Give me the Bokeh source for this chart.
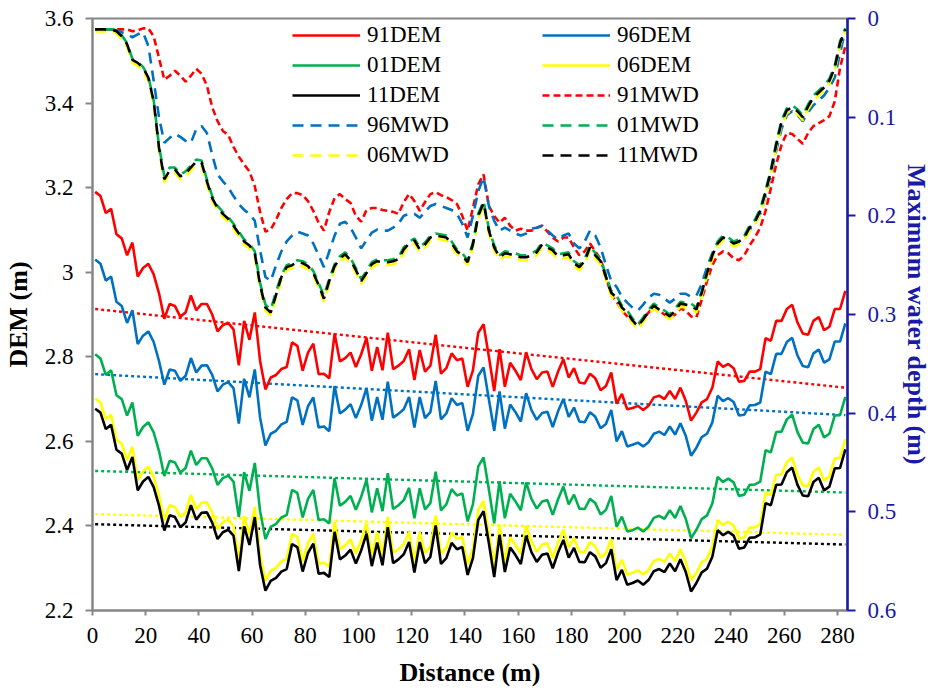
from bokeh.plotting import figure
from bokeh.models import (Range1d, LinearAxis, FixedTicker, CustomJSTickFormatter,
                          Legend, LegendItem)
from bokeh.embed import file_html
from bokeh.resources import INLINE

# ---------------- data ----------------
distance = list(range(1, 284, 2))  # m, 142 survey points

dem91 = [3.190, 3.180, 3.140, 3.150, 3.090, 3.080, 3.040, 3.070, 2.990, 3.010,
         3.020, 2.995, 2.950, 2.890, 2.925, 2.920, 2.895, 2.905, 2.945, 2.910,
         2.925, 2.925, 2.900, 2.860, 2.875, 2.880, 2.865, 2.780, 2.885, 2.840,
         2.905, 2.790, 2.723, 2.751, 2.757, 2.771, 2.776, 2.834, 2.826, 2.767,
         2.810, 2.831, 2.759, 2.760, 2.749, 2.855, 2.789, 2.797, 2.810, 2.776,
         2.806, 2.845, 2.767, 2.823, 2.768, 2.857, 2.771, 2.779, 2.790, 2.818,
         2.745, 2.816, 2.765, 2.779, 2.852, 2.760, 2.773, 2.808, 2.792, 2.796,
         2.729, 2.768, 2.857, 2.877, 2.800, 2.719, 2.818, 2.729, 2.786, 2.767,
         2.745, 2.811, 2.771, 2.747, 2.763, 2.765, 2.729, 2.765, 2.794, 2.751,
         2.773, 2.739, 2.737, 2.760, 2.749, 2.721, 2.731, 2.763, 2.689, 2.712,
         2.676, 2.679, 2.684, 2.674, 2.684, 2.704, 2.708, 2.700, 2.719, 2.700,
         2.727, 2.696, 2.649, 2.668, 2.692, 2.700, 2.727, 2.789, 2.776, 2.783,
         2.773, 2.741, 2.743, 2.765, 2.765, 2.771, 2.844, 2.838, 2.885, 2.885,
         2.913, 2.923, 2.881, 2.855, 2.852, 2.885, 2.894, 2.863, 2.871, 2.913,
         2.913, 2.956]

dem96 = [3.030, 3.020, 2.980, 2.990, 2.930, 2.920, 2.880, 2.910, 2.830, 2.850,
         2.860, 2.835, 2.790, 2.734, 2.770, 2.767, 2.743, 2.755, 2.797, 2.763,
         2.779, 2.780, 2.757, 2.718, 2.734, 2.740, 2.726, 2.642, 2.748, 2.704,
         2.770, 2.656, 2.590, 2.618, 2.625, 2.640, 2.646, 2.704, 2.697, 2.639,
         2.683, 2.704, 2.633, 2.635, 2.624, 2.731, 2.666, 2.675, 2.688, 2.655,
         2.686, 2.726, 2.649, 2.705, 2.651, 2.741, 2.656, 2.665, 2.676, 2.705,
         2.633, 2.705, 2.655, 2.669, 2.743, 2.652, 2.666, 2.702, 2.686, 2.691,
         2.625, 2.665, 2.755, 2.775, 2.699, 2.625, 2.718, 2.630, 2.687, 2.669,
         2.647, 2.714, 2.674, 2.651, 2.667, 2.670, 2.634, 2.671, 2.700, 2.658,
         2.680, 2.647, 2.645, 2.669, 2.658, 2.631, 2.641, 2.674, 2.600, 2.624,
         2.588, 2.592, 2.597, 2.588, 2.598, 2.618, 2.623, 2.615, 2.635, 2.616,
         2.643, 2.613, 2.566, 2.585, 2.610, 2.618, 2.645, 2.708, 2.695, 2.702,
         2.693, 2.661, 2.663, 2.685, 2.686, 2.692, 2.765, 2.759, 2.807, 2.807,
         2.835, 2.845, 2.803, 2.778, 2.775, 2.808, 2.817, 2.786, 2.794, 2.836,
         2.836, 2.879]

dem01 = [2.806, 2.796, 2.757, 2.768, 2.709, 2.700, 2.661, 2.692, 2.613, 2.634,
         2.645, 2.621, 2.577, 2.518, 2.554, 2.550, 2.526, 2.537, 2.578, 2.544,
         2.560, 2.560, 2.536, 2.497, 2.513, 2.519, 2.505, 2.421, 2.527, 2.483,
         2.549, 2.435, 2.369, 2.398, 2.405, 2.420, 2.426, 2.485, 2.478, 2.420,
         2.464, 2.485, 2.414, 2.416, 2.406, 2.513, 2.448, 2.457, 2.471, 2.438,
         2.469, 2.509, 2.432, 2.489, 2.435, 2.525, 2.440, 2.449, 2.461, 2.490,
         2.418, 2.489, 2.439, 2.454, 2.528, 2.437, 2.451, 2.487, 2.472, 2.477,
         2.411, 2.451, 2.541, 2.562, 2.486, 2.406, 2.506, 2.418, 2.476, 2.458,
         2.437, 2.503, 2.464, 2.441, 2.458, 2.461, 2.426, 2.463, 2.493, 2.451,
         2.474, 2.441, 2.440, 2.464, 2.454, 2.427, 2.438, 2.471, 2.398, 2.422,
         2.387, 2.390, 2.396, 2.387, 2.398, 2.419, 2.424, 2.417, 2.437, 2.419,
         2.447, 2.417, 2.371, 2.391, 2.416, 2.425, 2.453, 2.516, 2.504, 2.512,
         2.503, 2.471, 2.474, 2.497, 2.498, 2.505, 2.579, 2.574, 2.622, 2.623,
         2.652, 2.663, 2.622, 2.597, 2.595, 2.629, 2.639, 2.609, 2.618, 2.661,
         2.662, 2.705]

dem06 = [2.701, 2.692, 2.653, 2.663, 2.604, 2.595, 2.556, 2.587, 2.508, 2.529,
         2.540, 2.516, 2.472, 2.413, 2.449, 2.445, 2.421, 2.432, 2.473, 2.439,
         2.455, 2.456, 2.432, 2.393, 2.409, 2.415, 2.401, 2.317, 2.423, 2.379,
         2.445, 2.331, 2.271, 2.294, 2.301, 2.316, 2.322, 2.381, 2.374, 2.316,
         2.360, 2.382, 2.311, 2.313, 2.303, 2.410, 2.345, 2.354, 2.368, 2.335,
         2.366, 2.406, 2.329, 2.385, 2.331, 2.421, 2.336, 2.345, 2.357, 2.386,
         2.314, 2.386, 2.336, 2.351, 2.425, 2.334, 2.348, 2.384, 2.369, 2.374,
         2.308, 2.348, 2.438, 2.459, 2.383, 2.303, 2.403, 2.315, 2.373, 2.355,
         2.334, 2.401, 2.362, 2.339, 2.356, 2.359, 2.324, 2.361, 2.391, 2.349,
         2.372, 2.339, 2.338, 2.362, 2.352, 2.325, 2.336, 2.369, 2.296, 2.320,
         2.285, 2.289, 2.295, 2.285, 2.296, 2.317, 2.322, 2.315, 2.335, 2.317,
         2.345, 2.315, 2.272, 2.289, 2.314, 2.323, 2.351, 2.414, 2.402, 2.410,
         2.401, 2.370, 2.373, 2.396, 2.397, 2.404, 2.478, 2.473, 2.521, 2.522,
         2.551, 2.562, 2.521, 2.496, 2.494, 2.528, 2.538, 2.508, 2.517, 2.560,
         2.561, 2.605]

dem11 = [2.677, 2.668, 2.629, 2.639, 2.580, 2.571, 2.532, 2.563, 2.484, 2.505,
         2.516, 2.492, 2.448, 2.389, 2.425, 2.421, 2.397, 2.408, 2.449, 2.415,
         2.431, 2.432, 2.408, 2.369, 2.385, 2.391, 2.377, 2.293, 2.399, 2.355,
         2.421, 2.307, 2.247, 2.270, 2.277, 2.292, 2.298, 2.357, 2.350, 2.292,
         2.336, 2.358, 2.287, 2.289, 2.279, 2.386, 2.321, 2.330, 2.344, 2.311,
         2.342, 2.382, 2.305, 2.361, 2.307, 2.397, 2.312, 2.321, 2.333, 2.362,
         2.290, 2.362, 2.312, 2.327, 2.401, 2.310, 2.324, 2.360, 2.345, 2.350,
         2.284, 2.324, 2.414, 2.435, 2.359, 2.279, 2.379, 2.291, 2.349, 2.331,
         2.310, 2.377, 2.338, 2.315, 2.332, 2.335, 2.300, 2.337, 2.367, 2.325,
         2.348, 2.315, 2.314, 2.338, 2.328, 2.301, 2.312, 2.345, 2.272, 2.296,
         2.261, 2.265, 2.271, 2.261, 2.272, 2.293, 2.298, 2.291, 2.311, 2.293,
         2.321, 2.291, 2.245, 2.265, 2.290, 2.299, 2.327, 2.390, 2.378, 2.386,
         2.377, 2.346, 2.349, 2.372, 2.373, 2.380, 2.454, 2.449, 2.497, 2.498,
         2.527, 2.538, 2.497, 2.472, 2.470, 2.504, 2.514, 2.484, 2.493, 2.536,
         2.537, 2.581]

mwd91 = [.011, .011, .011, .011, .011, .011, .011, .013, .012, .010,
         .010, .018, .040, .062, .058, .053, .058, .064, .058, .051,
         .056, .068, .090, .104, .114, .118, .130, .140, .148, .155,
         .170, .196, .216, .214, .204, .192, .183, .177, .177, .179,
         .185, .195, .207, .215, .196, .182, .178, .183, .187, .200,
         .206, .194, .192, .192, .194, .195, .196, .198, .186, .178,
         .185, .195, .186, .178, .176, .179, .181, .184, .188, .200,
         .215, .192, .168, .158, .190, .200, .207, .202, .210, .215,
         .213, .215, .215, .212, .210, .216, .222, .226, .222, .222,
         .232, .240, .236, .228, .236, .244, .262, .280, .287, .296,
         .302, .308, .311, .305, .298, .292, .296, .300, .304, .300,
         .294, .296, .302, .303, .285, .266, .250, .240, .236, .238,
         .243, .245, .240, .230, .222, .212, .195, .172, .148, .128,
         .116, .117, .122, .127, .116, .109, .106, .103, .099, .084,
         .050, .028]

mwd96 = [.011, .011, .011, .011, .012, .014, .016, .019, .016, .014,
         .028, .063, .100, .126, .121, .117, .120, .124, .126, .112,
         .109, .116, .138, .158, .165, .171, .180, .188, .194, .198,
         .205, .235, .262, .266, .250, .236, .226, .220, .216, .218,
         .220, .228, .240, .252, .236, .220, .208, .206, .212, .222,
         .233, .225, .217, .214, .215, .215, .212, .208, .200, .198,
         .198, .202, .196, .190, .188, .190, .192, .194, .198, .208,
         .222, .200, .175, .161, .190, .205, .215, .212, .215, .218,
         .220, .218, .213, .212, .210, .215, .220, .224, .220, .218,
         .228, .233, .226, .215, .220, .232, .250, .266, .272, .282,
         .288, .293, .296, .290, .283, .279, .280, .284, .288, .284,
         .279, .279, .282, .281, .269, .252, .238, .228, .222, .224,
         .228, .226, .222, .214, .208, .198, .180, .160, .134, .112,
         .098, .094, .098, .104, .095, .088, .083, .078, .070, .060,
         .035, .012]

mwd01 = [.011, .011, .011, .011, .012, .017, .025, .041, .044, .049,
         .059, .083, .129, .160, .151, .151, .158, .155, .149, .143,
         .144, .163, .180, .190, .196, .201, .208, .216, .224, .228,
         .236, .268, .290, .295, .277, .260, .250, .248, .245, .246,
         .249, .256, .268, .281, .264, .249, .241, .237, .243, .253,
         .264, .256, .247, .244, .245, .245, .244, .242, .232, .226,
         .223, .232, .227, .220, .218, .219, .220, .226, .234, .238,
         .245, .227, .198, .185, .213, .230, .240, .236, .237, .238,
         .240, .240, .238, .235, .227, .230, .233, .239, .238, .237,
         .246, .250, .244, .230, .238, .244, .260, .276, .281, .291,
         .296, .304, .310, .303, .295, .289, .293, .296, .300, .294,
         .287, .288, .289, .293, .276, .256, .238, .226, .220, .222,
         .226, .224, .220, .210, .204, .193, .174, .153, .126, .103,
         .091, .088, .092, .098, .087, .078, .073, .068, .061, .048,
         .023, .010]

mwd06 = [.013, .013, .013, .013, .015, .021, .029, .045, .048, .053,
         .063, .087, .134, .166, .157, .156, .163, .160, .154, .148,
         .149, .168, .185, .195, .201, .206, .213, .221, .229, .233,
         .241, .273, .296, .301, .283, .265, .255, .253, .250, .251,
         .254, .261, .273, .287, .269, .254, .246, .242, .248, .258,
         .269, .261, .252, .249, .250, .250, .249, .247, .237, .231,
         .228, .237, .232, .225, .223, .224, .225, .231, .239, .243,
         .250, .232, .203, .190, .218, .235, .245, .241, .242, .243,
         .245, .245, .243, .240, .232, .235, .238, .244, .243, .242,
         .251, .255, .249, .235, .243, .249, .265, .281, .286, .296,
         .301, .309, .315, .308, .300, .294, .298, .301, .305, .299,
         .292, .293, .294, .298, .281, .261, .243, .231, .225, .227,
         .231, .229, .225, .215, .209, .198, .179, .158, .131, .108,
         .096, .093, .097, .103, .092, .083, .078, .073, .066, .053,
         .027, .012]

mwd11 = [.011, .011, .011, .011, .013, .018, .026, .042, .045, .050,
         .060, .084, .131, .163, .154, .153, .160, .157, .151, .145,
         .146, .165, .182, .192, .198, .203, .210, .218, .226, .230,
         .238, .270, .293, .298, .280, .262, .252, .250, .247, .248,
         .251, .258, .270, .284, .266, .251, .243, .239, .245, .255,
         .266, .258, .249, .246, .247, .247, .246, .244, .234, .228,
         .225, .234, .229, .222, .220, .221, .222, .228, .236, .240,
         .247, .229, .200, .187, .215, .232, .242, .238, .239, .240,
         .242, .242, .240, .237, .229, .232, .235, .241, .240, .239,
         .248, .252, .246, .232, .240, .246, .262, .278, .283, .293,
         .298, .306, .312, .305, .297, .291, .295, .298, .302, .296,
         .289, .290, .291, .295, .278, .258, .240, .228, .222, .224,
         .228, .226, .222, .212, .206, .195, .176, .155, .128, .105,
         .093, .090, .094, .100, .089, .080, .075, .070, .063, .050,
         .025, .011]

# linear trend lines of the DEM profiles (end points)
trend_x = [1, 283]
trend91 = [2.913, 2.727]
trend96 = [2.759, 2.662]
trend01 = [2.530, 2.479]
trend06 = [2.428, 2.379]
trend11 = [2.404, 2.356]

x_ticks = [0, 20, 40, 60, 80, 100, 120, 140, 160, 180, 200, 220, 240, 260, 280]
dem_ticks = [2.2, 2.4, 2.6, 2.8, 3.0, 3.2, 3.4, 3.6]
mwd_ticks = [0, 0.1, 0.2, 0.3, 0.4, 0.5, 0.6]

# ---------------- styling ----------------
FONT = "Liberation Serif"
RED, BLUE, GREEN, YELLOW, BLACK = "#FF0000", "#0070C0", "#00B050", "#FFFF00", "#000000"
NAVY = "#1A1AA6"
GRAY = "#868686"
LW = 2.6
LONG_DASH = "11 7"
SHORT_DASH = "7 4"
DOT = "3 3"

p = figure(width=934, height=693, output_backend="svg", toolbar_location=None,
           x_range=Range1d(0, 283.8), y_range=Range1d(2.2, 3.6),
           min_border_left=92, min_border_right=87, min_border_top=18,
           min_border_bottom=83)
p.xgrid.visible = False
p.ygrid.visible = False
p.outline_line_color = GRAY
p.outline_line_width = 2
p.background_fill_color = "white"
p.border_fill_color = "white"

fmt = CustomJSTickFormatter(code="return tick.toFixed(1).replace(/\\.0$/, '');")

xa = p.xaxis[0]
xa.ticker = FixedTicker(ticks=x_ticks)
xa.axis_label = "Distance (m)"
ya = p.yaxis[0]
ya.ticker = FixedTicker(ticks=dem_ticks)
ya.formatter = fmt
ya.axis_label = "DEM (m)"
for ax in (xa, ya):
    ax.axis_line_color = GRAY
    ax.axis_line_width = 2
    ax.major_tick_line_color = GRAY
    ax.major_tick_line_width = 2
    ax.major_tick_in = 0
    ax.major_tick_out = 7
    ax.minor_tick_line_color = None
    ax.major_label_text_font = FONT
    ax.major_label_text_font_size = "23px"
    ax.major_label_text_color = "black"
    ax.axis_label_text_font = FONT
    ax.axis_label_text_font_style = "bold"
    ax.axis_label_text_font_size = "26px"
    ax.axis_label_text_color = "black"
xa.major_tick_out = 5
xa.major_label_standoff = 12
xa.axis_label_standoff = 12
ya.major_label_standoff = 12
ya.axis_label_standoff = 9

# right axis (maximum water depth, inverted)
p.extra_y_ranges = {"mwd": Range1d(0.6, 0.0)}
ra = LinearAxis(y_range_name="mwd", ticker=FixedTicker(ticks=mwd_ticks), formatter=fmt,
                axis_label="Maximum water depth (m)")
ra.axis_line_color = NAVY
ra.axis_line_width = 2.5
ra.major_tick_line_color = NAVY
ra.major_tick_line_width = 2
ra.major_tick_in = 0
ra.major_tick_out = 8
ra.minor_tick_line_color = None
ra.major_label_text_font = FONT
ra.major_label_text_font_size = "23px"
ra.major_label_text_color = NAVY
ra.major_label_standoff = 12
ra.axis_label_text_font = FONT
ra.axis_label_text_font_style = "bold"
ra.axis_label_text_font_size = "26px"
ra.axis_label_text_color = NAVY
ra.axis_label_standoff = 3
p.add_layout(ra, "right")

# trend lines
for ys, c in ((trend91, RED), (trend96, BLUE), (trend01, GREEN), (trend06, YELLOW), (trend11, BLACK)):
    p.line(trend_x, ys, line_color=c, line_width=2.4, line_dash=DOT)

# DEM profiles
r_d91 = p.line(distance, dem91, line_color=RED, line_width=LW)
r_d96 = p.line(distance, dem96, line_color=BLUE, line_width=LW)
r_d01 = p.line(distance, dem01, line_color=GREEN, line_width=LW)
r_d06 = p.line(distance, dem06, line_color=YELLOW, line_width=LW)
r_d11 = p.line(distance, dem11, line_color=BLACK, line_width=LW)

# maximum water depth profiles (right axis)
r_m91 = p.line(distance, mwd91, y_range_name="mwd", line_color=RED, line_width=LW, line_dash=SHORT_DASH)
r_m96 = p.line(distance, mwd96, y_range_name="mwd", line_color=BLUE, line_width=LW, line_dash=LONG_DASH)
r_m06 = p.line(distance, mwd06, y_range_name="mwd", line_color=YELLOW, line_width=LW, line_dash=LONG_DASH)
p.line(distance, mwd01, y_range_name="mwd", line_color=GREEN, line_width=LW, line_dash=LONG_DASH,
       line_dash_offset=9)
r_m11 = p.line(distance, mwd11, y_range_name="mwd", line_color=BLACK, line_width=LW, line_dash=LONG_DASH)
# legend sample for 01MWD (same style, no dash offset; placed outside the visible x range)
r_m01 = p.line([-20, -10], [0.3, 0.3], y_range_name="mwd", line_color=GREEN, line_width=LW,
               line_dash=LONG_DASH)


def make_legend(items, x, y):
    lg = Legend(items=[LegendItem(label=l, renderers=[r]) for l, r in items],
                location=(x, y), orientation="vertical")
    lg.glyph_width = 68
    lg.glyph_height = 26
    lg.label_height = 26
    lg.spacing = 4
    lg.padding = 0
    lg.margin = 0
    lg.label_standoff = 7
    lg.label_text_font = FONT
    lg.label_text_font_size = "23px"
    lg.label_text_color = "black"
    lg.border_line_color = None
    lg.background_fill_alpha = 0
    lg.click_policy = "none"
    return lg


leg1 = make_legend([("91DEM", r_d91), ("01DEM", r_d01), ("11DEM", r_d11),
                    ("96MWD", r_m96), ("06MWD", r_m06)], 200, 442)
leg2 = make_legend([("96DEM", r_d96), ("06DEM", r_d06), ("91MWD", r_m91),
                    ("01MWD", r_m01), ("11MWD", r_m11)], 450, 442)
p.add_layout(leg1)
p.add_layout(leg2)

open("out.html", "w").write(file_html(p, INLINE))
